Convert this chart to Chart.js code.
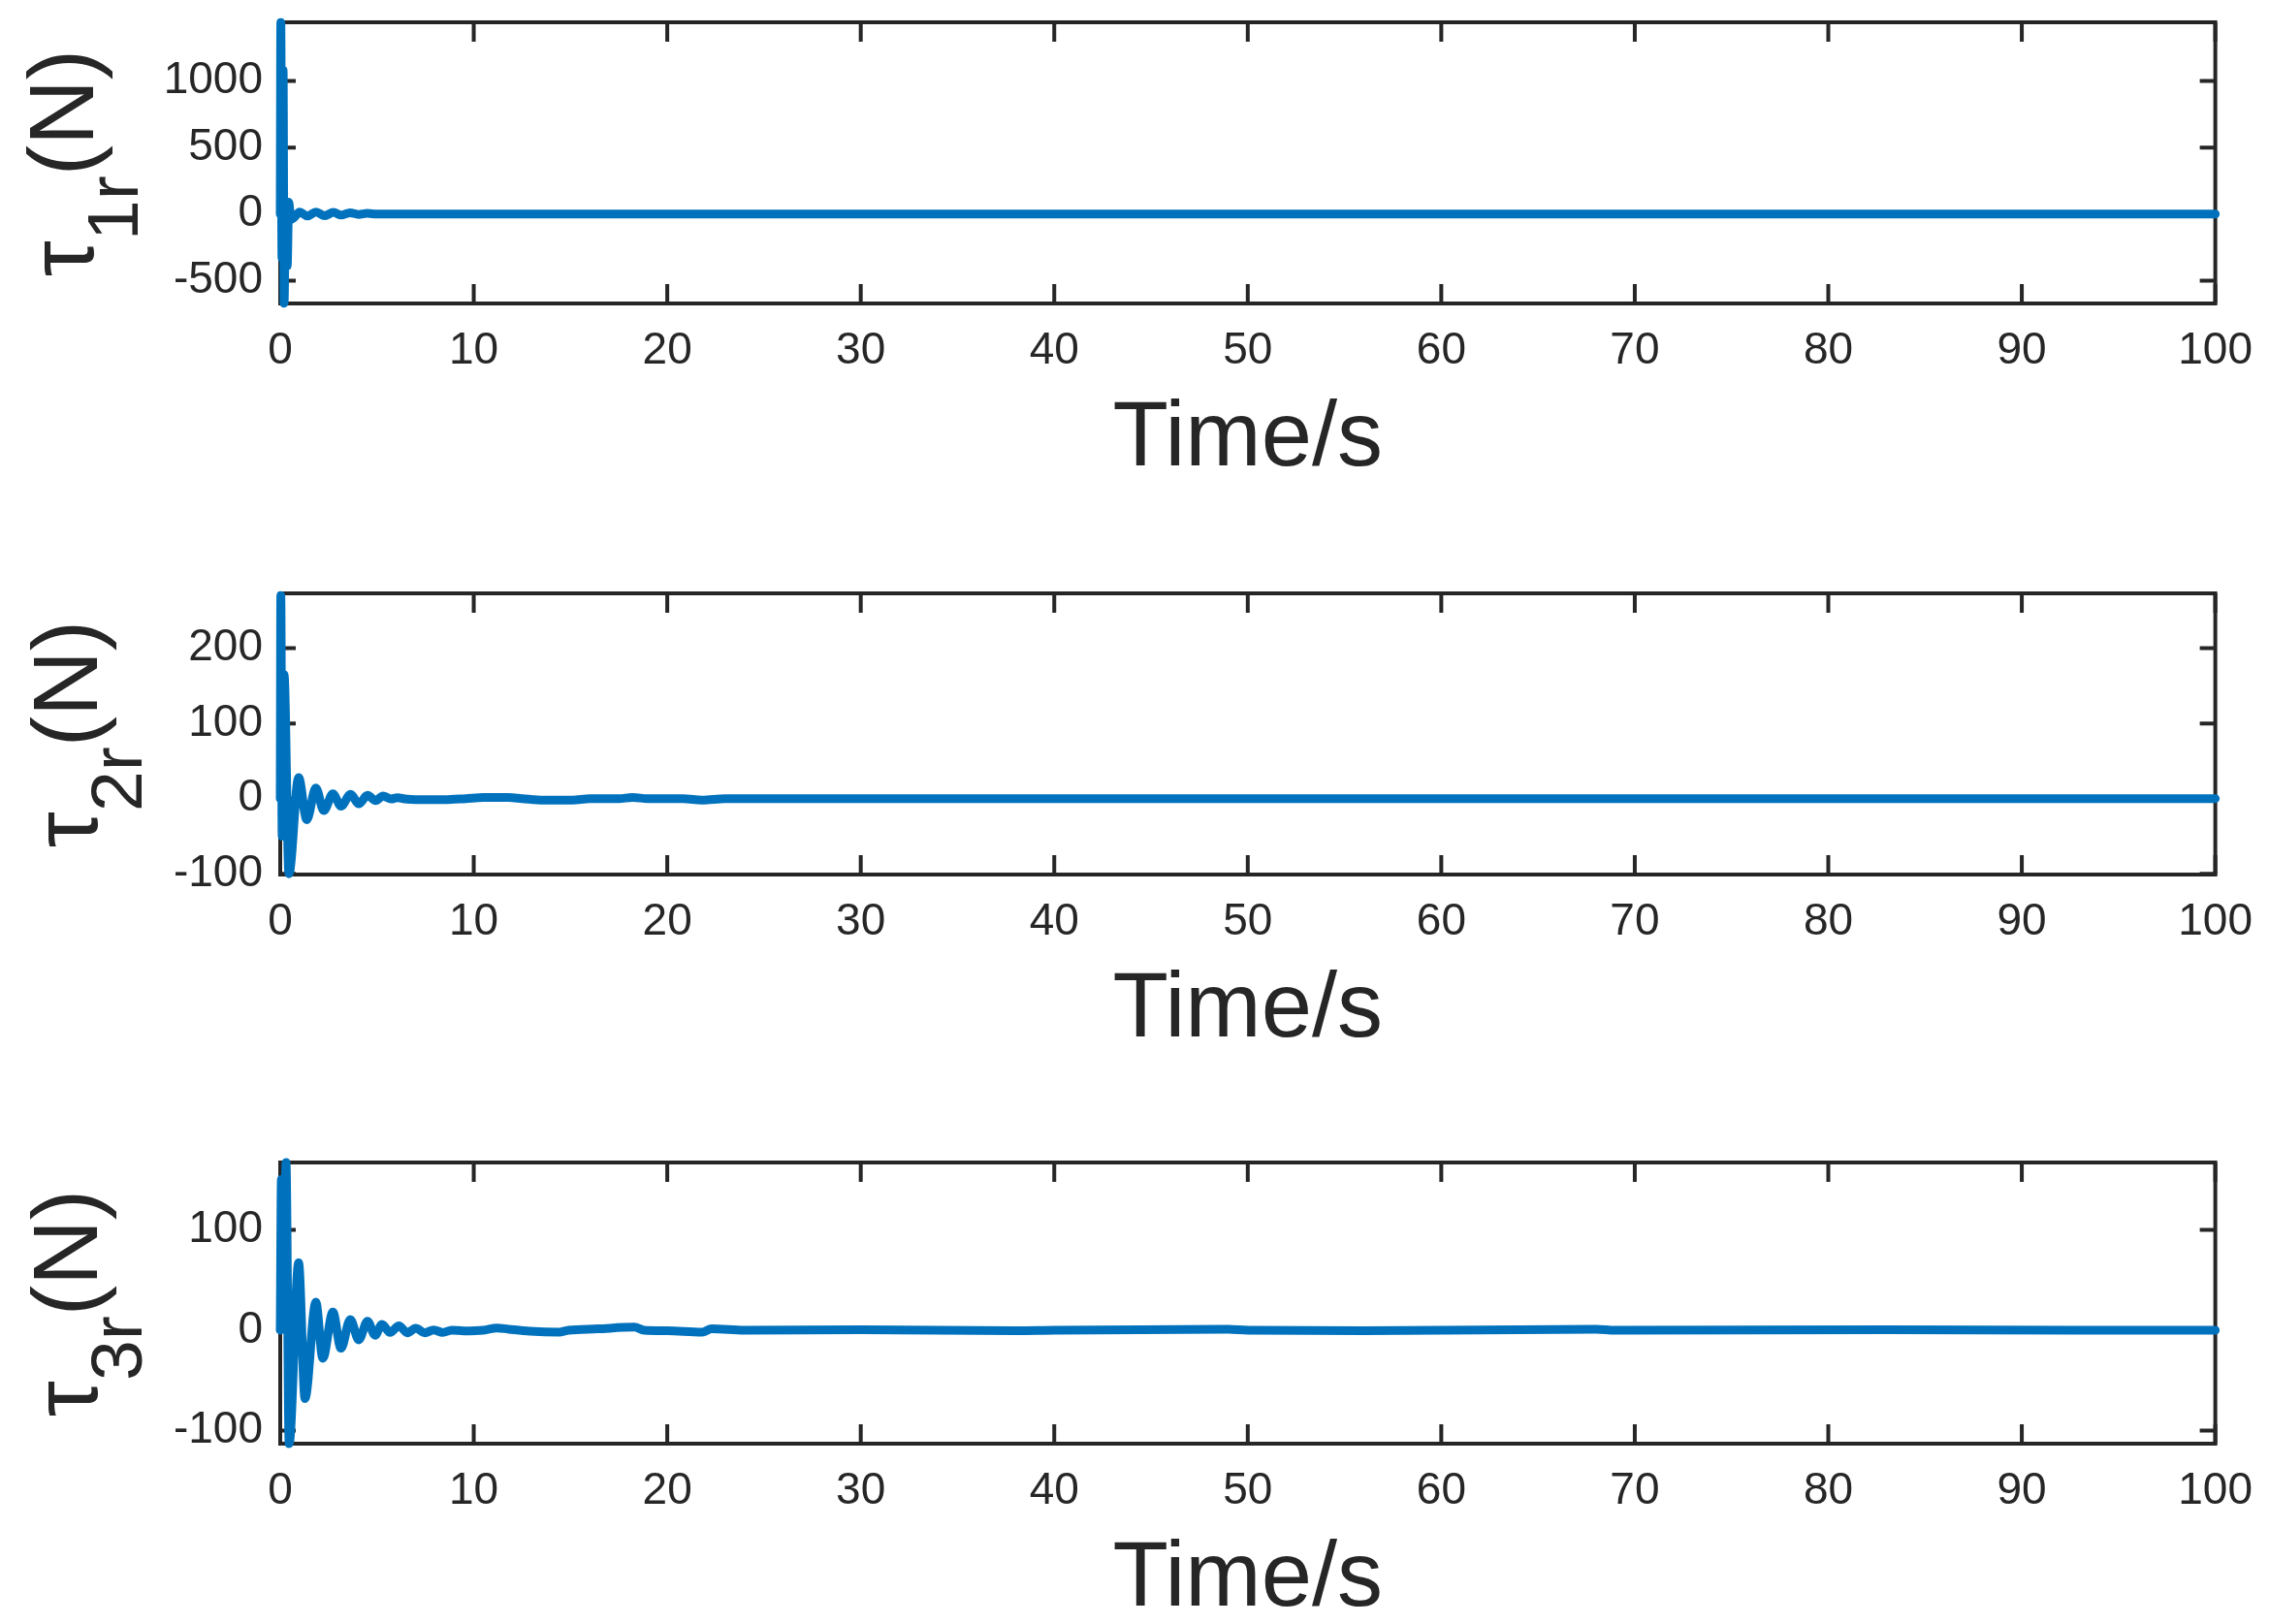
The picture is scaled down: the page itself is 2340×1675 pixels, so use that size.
<!DOCTYPE html>
<html>
<head>
<meta charset="utf-8">
<script src="https://cdn.jsdelivr.net/npm/chart.js@4.4.1/dist/chart.umd.min.js"></script>
<style>
    html, body { margin: 0; padding: 0; background: #ffffff; }
    body { width: 2340px; height: 1675px; position: relative; overflow: hidden; }
    canvas { position: absolute; left: 0; }
</style>
</head>
<body>
<canvas id="tau1" width="2345" height="538" style="top:-37px"></canvas>
<canvas id="tau2" width="2345" height="538" style="top:552px"></canvas>
<canvas id="tau3" width="2345" height="538" style="top:1139px"></canvas>
<script>
// tick labels
const timeTicks = [0, 10, 20, 30, 40, 50, 60, 70, 80, 90, 100];
const tau1Ticks = [-500, 0, 500, 1000];
const tau2Ticks = [-100, 0, 100, 200];
const tau3Ticks = [-100, 0, 100];

// tau_1r (N)
const tau1Time = [0, 0.03, 0.09, 0.15, 0.2, 0.28, 0.36, 0.44, 0.55, 0.72, 1.0, 1.4, 1.85, 2.3, 2.75, 3.15, 3.6, 4.05, 4.5, 5.0, 6.0, 100];
const tau1Value = [0, 1440, -330, 1080, -670, 60, -390, 90, -40, -25, 15, -15, 15, -12, 12, -8, 10, -3, 5, 0, 0, 0];

// tau_2r (N)
const tau2Time = [0, 0.03, 0.1, 0.2, 0.45, 0.95, 1.37, 1.84, 2.25, 2.72, 3.14, 3.64, 4.06, 4.51, 4.93, 5.31, 5.73, 6.06, 6.43, 7.0,
    8.5, 9.6, 10.5, 11.8, 12.5, 13.6, 15.1, 16.0, 17.5, 18.2, 19.0, 20.8, 21.8, 23.0, 100];
const tau2Value = [0, 270, -50, 165, -100, 28, -28, 14, -16, 6.5, -10, 5.6, -7, 4.3, -2.6, 3.4, -0.5, 1.3, -0.5, -1.5,
    -1.5, 0, 1.5, 1.5, 0, -2, -2, 0, 0, 1.5, 0, 0, -2, 0, 0];

// tau_3r (N)
const tau3Time = [0, 0.06, 0.15, 0.3, 0.46, 0.95, 1.28, 1.84, 2.2, 2.72, 3.14, 3.62, 4.06, 4.51, 4.9, 5.26, 5.68, 6.13, 6.57, 7.0,
    7.47, 7.93, 8.4, 8.86, 9.5, 10.5, 11.2, 11.8, 12.9, 14.4, 14.9, 16.4, 18.3, 18.8, 20, 21.8, 22.3, 24, 30, 38,
    40, 49, 50, 56, 68, 69, 83, 93, 100];
const tau3Value = [0, 150, 5, 167, -113, 67, -68, 28, -28, 18, -18, 10.6, -9.6, 9, -5, 5.8, -2.3, 4.4, -2.6, 2,
    -2.6, 0.3, -2.3, 0, -0.7, 0, 2.2, 1, -1, -2, 0, 1.3, 3, 0, -0.5, -2, 1.5, 0, 0.5, -0.5,
    0, 1, 0, -0.5, 1, 0, 0.5, 0, 0];

const FONT = "'Liberation Sans', Arial, Helvetica, sans-serif";
const INK = '#262626';
const LINE = '#0072BD';

// MATLAB style box with inward ticks, drawn under the data
const axesBox = {
    id: 'axesBox',
    beforeDatasetsDraw(chart) {
        const { ctx, chartArea: a, scales } = chart;
        ctx.save();
        ctx.strokeStyle = INK;
        ctx.lineWidth = 4;
        ctx.strokeRect(a.left, a.top, a.right - a.left, a.bottom - a.top);
        ctx.beginPath();
        timeTicks.forEach(v => {
            const px = scales.x.getPixelForValue(v);
            ctx.moveTo(px, a.bottom); ctx.lineTo(px, a.bottom - 20);
            ctx.moveTo(px, a.top); ctx.lineTo(px, a.top + 20);
        });
        scales.y.ticks.forEach(t => {
            const py = scales.y.getPixelForValue(t.value);
            ctx.moveTo(a.left, py); ctx.lineTo(a.left + 16, py);
            ctx.moveTo(a.right, py); ctx.lineTo(a.right - 16, py);
        });
        ctx.stroke();
        ctx.restore();
    }
};

// rotated y label with subscript: tau_{Nr}(N)
const yTitle = {
    id: 'yTitle',
    afterDraw(chart, args, opts) {
        const { ctx, chartArea: a } = chart;
        const mainFont = `94px ${FONT}`;
        const subFont = `75px ${FONT}`;
        ctx.save();
        ctx.fillStyle = INK;
        ctx.textBaseline = 'alphabetic';
        ctx.textAlign = 'left';
        ctx.font = mainFont;
        const w1 = ctx.measureText('τ').width;
        const w3 = ctx.measureText('(N)').width;
        ctx.font = subFont;
        const w2 = ctx.measureText(opts.sub).width;
        const total = w1 + w2 + w3;
        ctx.translate(opts.x, (a.top + a.bottom) / 2);
        ctx.rotate(-Math.PI / 2);
        let x = -total / 2;
        ctx.font = mainFont;
        ctx.fillText('τ', x, 0);
        x += w1;
        ctx.font = subFont;
        ctx.fillText(opts.sub, x, 46);
        x += w2;
        ctx.font = mainFont;
        ctx.fillText('(N)', x, 0);
        ctx.restore();
    }
};

function makeChart(id, times, values, ticks, yMin, yMax, sub, titleX) {
    const ctx = document.getElementById(id);
    return new Chart(ctx, {
        type: 'line',
        data: {
            datasets: [{
                data: times.map((t, i) => ({ x: t, y: values[i] })),
                borderColor: LINE,
                borderWidth: 9,
                pointRadius: 0,
                cubicInterpolationMode: 'monotone',
                borderJoinStyle: 'round',
                borderCapStyle: 'round',
                fill: false,
                clip: false
            }]
        },
        options: {
            responsive: false,
            animation: false,
            devicePixelRatio: 1,
            layout: { padding: { top: 60, right: 60, bottom: 0, left: 0 } },
            plugins: {
                legend: { display: false },
                tooltip: { enabled: false },
                yTitle: { sub: sub, x: titleX }
            },
            scales: {
                x: {
                    type: 'linear',
                    min: 0,
                    max: 100,
                    afterBuildTicks: s => { s.ticks = timeTicks.map(v => ({ value: v })); },
                    afterFit: s => { s.height = 188; },
                    grid: { display: false, drawTicks: false },
                    border: { display: false },
                    ticks: {
                        color: INK,
                        padding: 22,
                        maxRotation: 0,
                        autoSkip: false,
                        callback: v => String(v),
                        font: { family: FONT, size: 46 }
                    },
                    title: {
                        display: true,
                        text: 'Time/s',
                        color: INK,
                        padding: 0,
                        font: { family: FONT, size: 94, lineHeight: 1 }
                    }
                },
                y: {
                    type: 'linear',
                    min: yMin,
                    max: yMax,
                    afterBuildTicks: s => { s.ticks = ticks.map(v => ({ value: v })); },
                    afterFit: s => { s.width = 289; },
                    grid: { display: false, drawTicks: false },
                    border: { display: false },
                    ticks: {
                        color: INK,
                        padding: 18,
                        callback: v => String(v),
                        font: { family: FONT, size: 46 }
                    }
                }
            }
        },
        plugins: [axesBox, yTitle]
    });
}

document.addEventListener('DOMContentLoaded', () => {
    makeChart('tau1', tau1Time, tau1Value, tau1Ticks, -672, 1441, '1r', 96);
    makeChart('tau2', tau2Time, tau2Value, tau2Ticks, -101, 273, '2r', 100);
    makeChart('tau3', tau3Time, tau3Value, tau3Ticks, -113, 167, '3r', 100);
});
</script>
</body>
</html>
